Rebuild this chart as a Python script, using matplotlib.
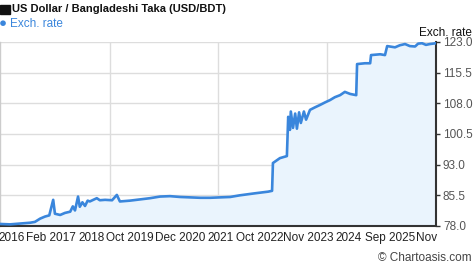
import matplotlib
matplotlib.use("Agg")
import matplotlib.pyplot as plt

plt.rcParams['font.family'] = ['Liberation Sans', 'DejaVu Sans']

# Data (decimal year, USD/BDT rate)
years = [2015.85, 2016.08, 2016.31, 2016.54, 2016.65, 2016.77, 2016.88, 2016.98, 2017.07, 2017.11,
         2017.23, 2017.34, 2017.46, 2017.52, 2017.57, 2017.64, 2017.68, 2017.74, 2017.80, 2017.86,
         2017.91, 2018.07, 2018.14, 2018.26, 2018.42, 2018.53, 2018.60, 2018.83, 2019.06, 2019.29,
         2019.52, 2019.75, 2019.98, 2020.21, 2020.44, 2020.67, 2020.90, 2021.13, 2021.35, 2021.70,
         2022.00, 2022.09, 2022.11, 2022.27, 2022.43, 2022.46, 2022.50, 2022.52, 2022.57, 2022.62,
         2022.66, 2022.71, 2022.75, 2022.82, 2022.87, 2022.96, 2023.07, 2023.19, 2023.30, 2023.42,
         2023.53, 2023.65, 2023.76, 2023.88, 2024.02, 2024.04, 2024.22, 2024.34, 2024.36, 2024.57,
         2024.68, 2024.73, 2024.91, 2025.02, 2025.14, 2025.25, 2025.37, 2025.44, 2025.53, 2025.62,
         2025.71, 2025.85]
rates = [78.5, 78.4, 78.6, 78.8, 79.0, 79.8, 80.3, 80.6, 84.4, 81.0,
         80.7, 81.2, 81.5, 82.8, 81.8, 85.2, 82.7, 83.8, 82.9, 84.2,
         84.0, 84.8, 84.3, 84.4, 84.3, 85.6, 84.0, 84.2, 84.5, 84.8,
         85.2, 85.3, 85.1, 85.0, 84.9, 84.9, 85.0, 85.1, 85.5, 86.0,
         86.4, 86.6, 93.4, 94.6, 95.1, 104.7, 101.5, 106.0, 102.0, 105.5,
         101.8, 105.8, 103.2, 106.0, 104.0, 106.4, 107.0, 107.6, 108.2, 108.8,
         109.5, 110.0, 110.8, 110.3, 110.0, 117.6, 117.8, 117.8, 119.8, 120.0,
         119.8, 122.0, 121.7, 122.2, 122.5, 122.0, 121.9, 122.6, 122.7, 122.3,
         122.5, 122.7]

y_ticks = [78.0, 85.5, 93.0, 100.5, 108.0, 115.5, 123.0]
x_tick_pos = [2016.12, 2017.02, 2017.96, 2018.83, 2019.98, 2020.90, 2021.81, 2022.91, 2023.85, 2024.79, 2025.64]
x_tick_labels = ["2016", "Feb 2017", "2018", "Oct 2019", "Dec 2020", "2021", "Oct 2022",
                 "Nov 2023", "2024", "Sep 2025", "Nov"]
grid_x = [2018.37, 2020.85, 2023.35]

title = "US Dollar / Bangladeshi Taka (USD/BDT)"
series_name = "Exch. rate"

line_color = "#3a86dc"
fill_color = "#eaf4fd"

fig = plt.figure(figsize=(4.74, 2.69), dpi=100)
ax = fig.add_axes([0.0, 1 - 226 / 269, 436 / 474, (226 - 42) / 269])

ax.fill_between(years, rates, 78.0, color=fill_color, zorder=1)
ax.plot(years, rates, color=line_color, lw=1.9, zorder=3, solid_joinstyle='round')

ax.set_xlim(2015.85, 2025.85)
ax.set_ylim(78.0, 123.0)

ax.yaxis.tick_right()
ax.set_yticks(y_ticks)
ax.set_yticklabels([f"{v:.1f}" for v in y_ticks])
ax.tick_params(axis='y', which='major', length=3, width=1, color='#333333',
               labelsize=8.5, labelcolor='#555555', pad=2)

ax.set_xticks(x_tick_pos)
ax.set_xticklabels(x_tick_labels)
ax.tick_params(axis='x', which='major', length=0, labelsize=8.5, labelcolor='#222222', pad=4)
ax.set_xticks(grid_x, minor=True)
ax.tick_params(axis='x', which='minor', length=0)

ax.grid(True, axis='y', which='major', color='#dddddd', lw=1, zorder=0)
ax.grid(True, axis='x', which='minor', color='#dddddd', lw=1, zorder=0)
ax.set_axisbelow(True)

ax.spines['top'].set_visible(False)
ax.spines['left'].set_color('#cccccc')
ax.spines['left'].set_linewidth(1)
ax.spines['right'].set_color('#333333')
ax.spines['right'].set_linewidth(1.5)
ax.spines['bottom'].set_color('#333333')
ax.spines['bottom'].set_linewidth(1.5)

# Header
fig.patches.append(plt.Rectangle((0 / 474, 1 - 14 / 269), 10 / 474, 9 / 269,
                                 transform=fig.transFigure, color='#111111'))
fig.text(12 / 474, 1 - 9.5 / 269, title, fontsize=8, fontweight='bold',
         color='#111111', va='center', ha='left')
fig.text(-1 / 474, 1 - 23.5 / 269, "\u25cf", fontsize=9.5, color=line_color, va='center', ha='left')
fig.text(10 / 474, 1 - 24 / 269, series_name, fontsize=8.5, color=line_color, va='center', ha='left')
fig.text(472 / 474, 1 - 33 / 269, series_name, fontsize=8.5, color='#111111', va='center', ha='right')
fig.text(472 / 474, 1 - 258 / 269, "\u00a9 Chartoasis.com", fontsize=8.5, color='#444444',
         va='center', ha='right')

fig.savefig("out.png", dpi=100)
